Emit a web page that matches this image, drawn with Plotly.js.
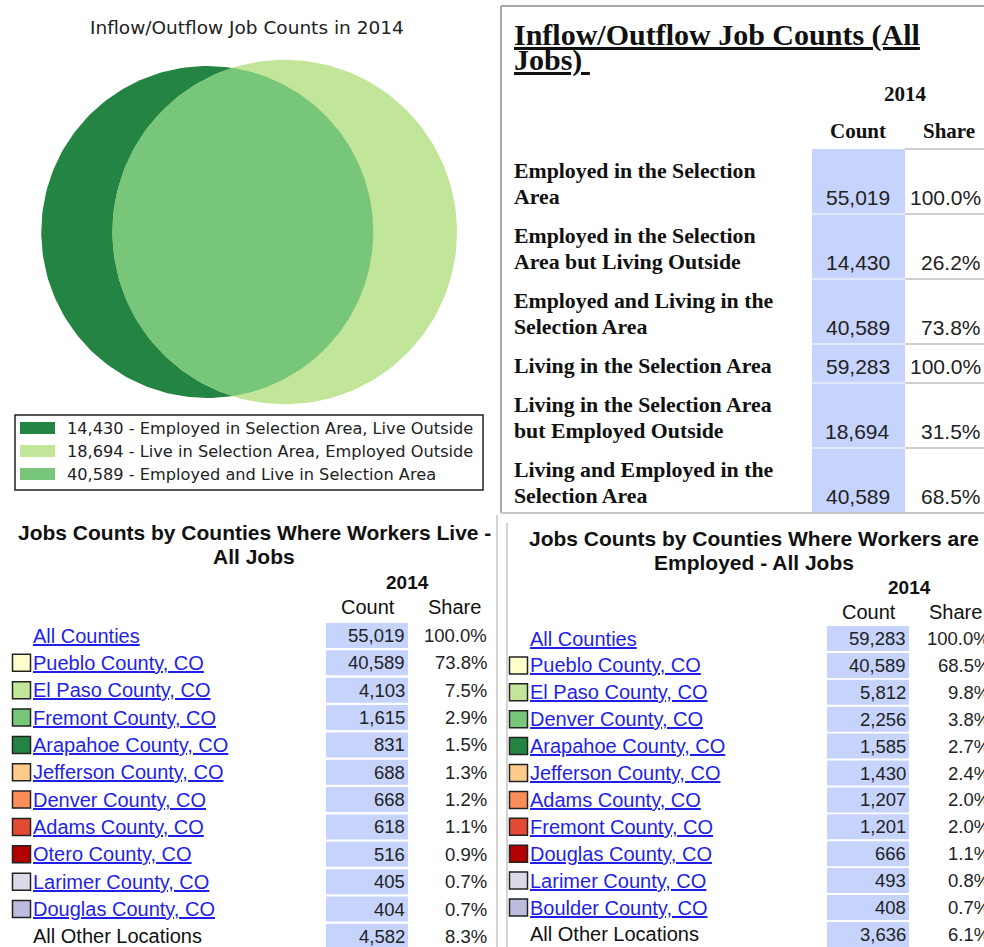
<!DOCTYPE html>
<html><head><meta charset="utf-8">
<script src="https://cdn.plot.ly/plotly-3.0.1.min.js"></script>
<style>html,body{margin:0;padding:0;background:#fff;}#chart{width:984px;height:947px;}</style>
</head><body><div id="chart"></div>
<script>
// ---------------- DATA ----------------
const vennTitle = 'Inflow/Outflow Job Counts in 2014';
const vennLabels = ['Employed in Selection Area, Live Outside', 'Live in Selection Area, Employed Outside', 'Employed and Live in Selection Area'];
const vennValues = [14430, 18694, 40589];

const inflowTitle = ['Inflow/Outflow Job Counts (All', 'Jobs) '];
const inflowYear = '2014';
const inflowHeaders = ['Count', 'Share'];
const inflowLabels = ['Employed in the Selection Area', 'Employed in the Selection Area but Living Outside', 'Employed and Living in the Selection Area', 'Living in the Selection Area', 'Living in the Selection Area but Employed Outside', 'Living and Employed in the Selection Area'];
const inflowCounts = [55019, 14430, 40589, 59283, 18694, 40589];
const inflowShares = [100.0, 26.2, 73.8, 100.0, 31.5, 68.5];

const liveTitle = ['Jobs Counts by Counties Where Workers Live -', 'All Jobs'];
const liveCounties = ['All Counties', 'Pueblo County, CO', 'El Paso County, CO', 'Fremont County, CO', 'Arapahoe County, CO', 'Jefferson County, CO', 'Denver County, CO', 'Adams County, CO', 'Otero County, CO', 'Larimer County, CO', 'Douglas County, CO', 'All Other Locations'];
const liveCounts = [55019, 40589, 4103, 1615, 831, 688, 668, 618, 516, 405, 404, 4582];
const liveShares = [100.0, 73.8, 7.5, 2.9, 1.5, 1.3, 1.2, 1.1, 0.9, 0.7, 0.7, 8.3];

const workTitle = ['Jobs Counts by Counties Where Workers are', 'Employed - All Jobs'];
const workCounties = ['All Counties', 'Pueblo County, CO', 'El Paso County, CO', 'Denver County, CO', 'Arapahoe County, CO', 'Jefferson County, CO', 'Adams County, CO', 'Fremont County, CO', 'Douglas County, CO', 'Larimer County, CO', 'Boulder County, CO', 'All Other Locations'];
const workCounts = [59283, 40589, 5812, 2256, 1585, 1430, 1207, 1201, 666, 493, 408, 3636];
const workShares = [100.0, 68.5, 9.8, 3.8, 2.7, 2.4, 2.0, 2.0, 1.1, 0.8, 0.7, 6.1];

const tableYear = '2014';

// ---------------- STYLE ----------------
const vennColors = ['#238443', '#c2e699', '#78c679'];
const rankColors = ['#ffffcc', '#c2e699', '#78c679', '#238443', '#fdcc8a', '#fc8d59', '#e34a33', '#b30000', '#dadaeb', '#bcbddc'];
const BLUE = '#c6d3fc';
const LINK = '#1f1fe8';
const SERIF = 'Liberation Serif, Times New Roman, serif';
const SANS = 'Liberation Sans, Arial, sans-serif';
const DEJA = 'DejaVu Sans, sans-serif';
const W = 984, H = 947;

const fmtCount = v => v.toLocaleString('en-US');
const fmtShare = v => v.toFixed(1) + '%';

const annotations = [];
const shapes = [];
const traces = [];

function txt(x, y, text, o) {
  o = o || {};
  const xs = x > W ? x - W : 0;
  annotations.push({
    x: Math.min(x, W), y: y, xref: 'x', yref: 'y', xshift: xs, text: text, showarrow: false,
    xanchor: o.xa || 'left', yanchor: 'middle', borderpad: 0,
    font: {family: o.family || SANS, size: o.size || 18, color: o.color || '#222', weight: o.weight || 'normal'}
  });
}
function rect(x0, y0, x1, y1, fill, line, lw, layer) {
  shapes.push({type: 'rect', xref: 'x', yref: 'y', x0: x0, y0: y0, x1: x1, y1: y1,
    fillcolor: fill, line: {color: line || 'rgba(0,0,0,0)', width: lw || 0}, layer: layer || 'below'});
}
function seg(x0, y0, x1, y1, color, w) {
  shapes.push({type: 'line', xref: 'x', yref: 'y', x0: x0, y0: y0, x1: x1, y1: y1, line: {color: color, width: w}, layer: 'above'});
}

// ---------------- VENN ----------------
const employedTotal = vennValues[0] + vennValues[2];
const livingTotal = vennValues[1] + vennValues[2];
const kScale = 166 / Math.sqrt(employedTotal);           // px per sqrt(job)
const r1 = kScale * Math.sqrt(employedTotal);
const r2 = kScale * Math.sqrt(livingTotal);
function lensArea(d) {
  const a1 = Math.acos((d * d + r1 * r1 - r2 * r2) / (2 * d * r1));
  const a2 = Math.acos((d * d + r2 * r2 - r1 * r1) / (2 * d * r2));
  const s = Math.sqrt((-d + r1 + r2) * (d + r1 - r2) * (d - r1 + r2) * (d + r1 + r2));
  return r1 * r1 * a1 + r2 * r2 * a2 - 0.5 * s;
}
const targetArea = Math.PI * kScale * kScale * vennValues[2];
let lo = Math.abs(r2 - r1) + 1e-6, hi = r1 + r2 - 1e-6;
for (let i = 0; i < 80; i++) { const m = (lo + hi) / 2; if (lensArea(m) > targetArea) lo = m; else hi = m; }
const dist = (lo + hi) / 2;
const midX = 246, cy = 232;
const c1 = midX - dist / 2, c2 = midX + dist / 2;

function arc(cx, r, t0, t1, n) {
  const xs = [], ys = [];
  for (let i = 0; i <= n; i++) { const t = t0 + (t1 - t0) * i / n; xs.push(cx + r * Math.cos(t)); ys.push(cy + r * Math.sin(t)); }
  return [xs, ys];
}
const full1 = arc(c1, r1, 0, 2 * Math.PI, 240);
const full2 = arc(c2, r2, 0, 2 * Math.PI, 240);
const aa = (dist * dist + r1 * r1 - r2 * r2) / (2 * dist);
const hh = Math.sqrt(r1 * r1 - aa * aa);
const alpha = Math.atan2(hh, aa - dist);
const beta = Math.atan2(hh, aa);
const lA = arc(c2, r2, alpha, 2 * Math.PI - alpha, 160);
const lB = arc(c1, r1, -beta, beta, 160);
const lensX = lA[0].concat(lB[0]), lensY = lA[1].concat(lB[1]);

[[full1, vennColors[0]], [full2, vennColors[1]], [[lensX, lensY], vennColors[2]]].forEach(p => {
  traces.push({type: 'scatter', mode: 'lines', x: p[0][0], y: p[0][1], fill: 'toself', fillcolor: p[1],
    line: {width: 0, color: p[1]}, hoverinfo: 'skip', showlegend: false});
});

txt(247, 27, vennTitle, {family: DEJA, size: 18.5, color: '#222', xa: 'center'});

// legend box
rect(15, 415, 483, 490, '#ffffff', '#222', 1.5, 'above');
vennLabels.forEach((lab, i) => {
  const y = 428 + 23 * i;
  rect(20, y - 6, 55, y + 6, vennColors[i], null, 0, 'above');
  txt(66, y, fmtCount(vennValues[i]) + ' - ' + lab, {family: DEJA, size: 16.2, color: '#222'});
});

// ---------------- INFLOW TABLE ----------------
seg(501, 6, 984, 6, '#a8a8a8', 2);
seg(501, 6, 501, 513, '#a8a8a8', 2);
seg(501, 513, 984, 513, '#c8c8c8', 2);

txt(513, 35, '<u>' + inflowTitle[0] + '</u>', {family: SERIF, size: 30, weight: 'bold', color: '#111'});
txt(513, 60, '<u>' + inflowTitle[1] + '</u>', {family: SERIF, size: 30, weight: 'bold', color: '#111'});
txt(905, 94, inflowYear, {family: SERIF, size: 21, weight: 'bold', xa: 'center', color: '#111'});
txt(858, 131, inflowHeaders[0], {family: SERIF, size: 21, weight: 'bold', xa: 'center', color: '#111'});
txt(949, 131, inflowHeaders[1], {family: SERIF, size: 21, weight: 'bold', xa: 'center', color: '#111'});

function wrap(s, max) {
  const words = s.split(' '), lines = [];
  let cur = '';
  words.forEach(w => { const t = cur ? cur + ' ' + w : w; if (t.length > max && cur) { lines.push(cur); cur = w; } else cur = t; });
  if (cur) lines.push(cur);
  return lines;
}
let rowTop = 149;
const tableTop = rowTop;
const bounds = [];
inflowLabels.forEach((lab, i) => {
  const lines = wrap(lab, 28);
  const hgt = 26 * lines.length + 13;
  lines.forEach((ln, j) => txt(513, rowTop + 22 + 26 * j, ln, {family: SERIF, size: 21.8, weight: 'bold', color: '#111'}));
  const vy = rowTop + 22 + 26 * (lines.length - 1);
  txt(891, vy, fmtCount(inflowCounts[i]), {family: SANS, size: 21, xa: 'right', color: '#222'});
  txt(982, vy, fmtShare(inflowShares[i]), {family: SANS, size: 21, xa: 'right', color: '#222'});
  rowTop += hgt;
  bounds.push(rowTop);
});
rect(812, tableTop, 905, rowTop, BLUE, null, 0, 'below');
seg(905, tableTop, 984, tableTop, '#d0d0d0', 2);
bounds.slice(0, -1).forEach(b => { seg(812, b, 905, b, '#e2e8fb', 2); seg(905, b, 984, b, '#d0d0d0', 2); });

// ---------------- COUNTY TABLES ----------------
function countyTable(p, title, names, counts, shares) {
  txt(p.tc, p.ty, title[0], {family: SANS, size: 21, weight: 'bold', xa: 'center', color: '#111'});
  txt(p.tc, p.ty + 24, title[1], {family: SANS, size: 21, weight: 'bold', xa: 'center', color: '#111'});
  txt(p.yearX, p.hy, tableYear, {family: SANS, size: 19, weight: 'bold', xa: 'center', color: '#111'});
  txt(p.countX, p.hy + 25, 'Count', {family: SANS, size: 20, xa: 'center', color: '#111'});
  txt(p.shareX, p.hy + 25, 'Share', {family: SANS, size: 20, xa: 'center', color: '#111'});
  names.forEach((nm, i) => {
    const y = p.r0 + p.dy * i;
    rect(p.bx0, y - 12.5, p.bx1, y + 12.5, BLUE, null, 0, 'below');
    const isLink = i < names.length - 1;
    if (i > 0 && isLink) rect(p.sx, y - 8.5, p.sx + 18, y + 8.5, rankColors[i - 1], '#222', 1.5, 'above');
    txt(p.lx, y, isLink ? '<u>' + nm + '</u>' : nm, {family: SANS, size: 20, color: isLink ? LINK : '#111'});
    txt(p.bx1 - 2, y, fmtCount(counts[i]), {family: SANS, size: 18.5, xa: 'right', color: '#222'});
    txt(p.sr, y, fmtShare(shares[i]), {family: SANS, size: 18.5, xa: 'right', color: '#222'});
  });
}
countyTable({tc: 254, ty: 532, yearX: 407, hy: 582, countX: 368, shareX: 454, r0: 635.5, dy: 27.35,
  bx0: 326, bx1: 408, sx: 12.5, lx: 32, sr: 488}, liveTitle, liveCounties, liveCounts, liveShares);
countyTable({tc: 754, ty: 538, yearX: 909, hy: 587, countX: 869, shareX: 955, r0: 638.5, dy: 26.9,
  bx0: 827, bx1: 909, sx: 509.5, lx: 529, sr: 991}, workTitle, workCounties, workCounts, workShares);

seg(497, 515, 497, 947, '#d4d4d4', 2);
seg(507, 523, 507, 947, '#d4d4d4', 2);

const layout = {
  width: W, height: H, margin: {l: 0, r: 0, t: 0, b: 0, pad: 0},
  paper_bgcolor: '#ffffff', plot_bgcolor: '#ffffff', showlegend: false,
  xaxis: {range: [0, W], autorange: false, visible: false, fixedrange: true},
  yaxis: {range: [H, 0], autorange: false, visible: false, fixedrange: true},
  annotations: annotations, shapes: shapes
};
Plotly.newPlot('chart', traces, layout, {displayModeBar: false, staticPlot: true});
</script>
</body></html>
